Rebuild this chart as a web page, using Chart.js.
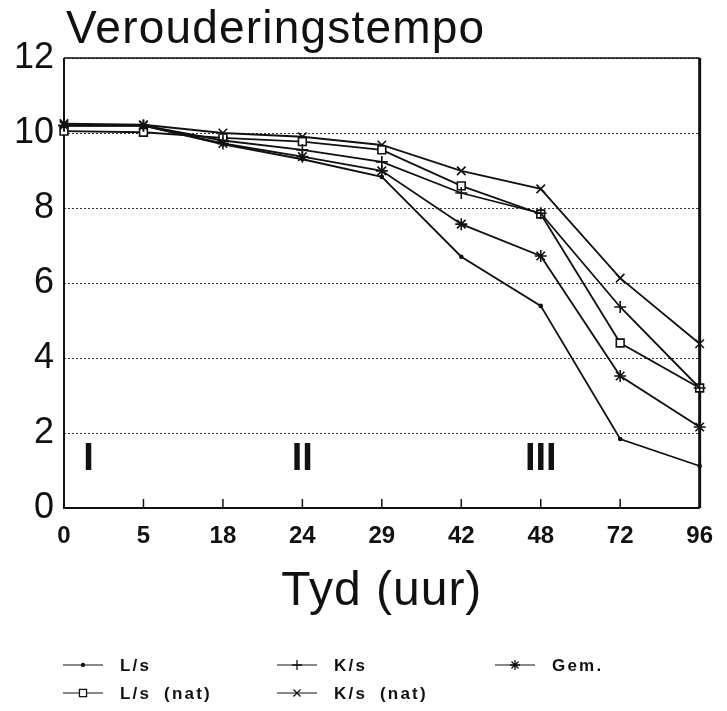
<!DOCTYPE html>
<html>
<head>
<meta charset="utf-8">
<script src="https://cdn.jsdelivr.net/npm/chart.js@4.4.1/dist/chart.umd.min.js"></script>
<style>
  html, body { margin: 0; padding: 0; background: #fff; }
  #wrap { width: 727px; height: 711px; }
</style>
</head>
<body>
<div id="wrap"><canvas id="tempo" width="727" height="711"></canvas></div>
<script>
// tydstippe (uur)
const hours = ['0', '5', '18', '24', '29', '42', '48', '72', '96'];

// verouderingstempo per reeks
const lsValues    = [10.2, 10.2, 9.7, 9.3, 8.83, 6.7, 5.39, 1.84, 1.12];
const ksValues    = [10.2, 10.2, 9.8, 9.55, 9.23, 8.4, 7.86, 5.36, 3.2];
const gemValues   = [10.2, 10.2, 9.72, 9.37, 8.99, 7.57, 6.72, 3.52, 2.16];
const lsNatValues = [10.05, 10.02, 9.87, 9.77, 9.55, 8.59, 7.84, 4.4, 3.2];
const ksNatValues = [10.25, 10.22, 10.0, 9.9, 9.68, 8.99, 8.51, 6.13, 4.38];

const seriesNames = ['L/s', 'K/s', 'Gem.', 'L/s (nat)', 'K/s (nat)'];
const yTicks = [0, 2, 4, 6, 8, 10, 12];
const phases = ['I', 'II', 'III'];

const ink = '#111';

function series(label, data, style, radius) {
    return {
        label: label,
        data: data,
        borderColor: ink,
        borderWidth: 1.8,
        pointStyle: style,
        pointRadius: radius,
        pointBorderWidth: 1.6,
        pointBorderColor: ink,
        pointBackgroundColor: style === 'rect' ? '#fff' : ink,
        tension: 0
    };
}

// raam, tydmerke, fases, titels en legende
const decorPlugin = {
    id: 'decor',
    beforeDatasetsDraw(chart) {
        const { ctx, chartArea: a, scales } = chart;
        ctx.save();
        ctx.strokeStyle = ink;
        ctx.lineWidth = 1.5;
        ctx.beginPath();
        ctx.moveTo(a.left, a.top);
        ctx.lineTo(a.right, a.top);
        ctx.stroke();
        ctx.lineWidth = 2;
        ctx.beginPath();
        ctx.moveTo(a.left, a.top);
        ctx.lineTo(a.left, a.bottom);
        ctx.lineTo(a.right, a.bottom);
        ctx.stroke();
        ctx.lineWidth = 3;
        ctx.beginPath();
        ctx.moveTo(a.right, a.top);
        ctx.lineTo(a.right, a.bottom);
        ctx.stroke();

        // klein merkies op die x-as
        ctx.lineWidth = 1.5;
        hours.forEach((h, i) => {
            if (i === 0 || i === hours.length - 1) return;
            const x = scales.x.getPixelForValue(i);
            ctx.beginPath();
            ctx.moveTo(x, a.bottom);
            ctx.lineTo(x, a.bottom - 9);
            ctx.stroke();
        });

        // fases I, II, III
        ctx.fillStyle = ink;
        ctx.font = 'bold 38px "Liberation Sans Narrow", "Liberation Sans", Arial, sans-serif';
        ctx.textAlign = 'center';
        ctx.textBaseline = 'middle';
        const phaseAt = [0.31, 3, 6];
        phases.forEach((p, i) => {
            ctx.fillText(p, scales.x.getPixelForValue(phaseAt[i]), scales.y.getPixelForValue(1.3));
        });
        ctx.restore();
    },
    afterDraw(chart) {
        const { ctx, chartArea: a } = chart;
        ctx.save();
        ctx.fillStyle = ink;
        ctx.textAlign = 'left';
        ctx.textBaseline = 'alphabetic';
        ctx.letterSpacing = '1.2px';
        ctx.font = '46px "Liberation Sans", Arial, sans-serif';
        ctx.fillText('Verouderingstempo', 66, 43);

        ctx.textAlign = 'center';
        ctx.letterSpacing = '1px';
        ctx.font = '48px "Liberation Sans", Arial, sans-serif';
        ctx.fillText('Tyd (uur)', (a.left + a.right) / 2, 605);

        // legende in twee rye
        const slots = [[63, 665], [277, 665], [495, 665], [63, 693], [277, 693]];
        ctx.letterSpacing = '2.2px';
        ctx.wordSpacing = '6px';
        ctx.font = 'bold 17px "Liberation Sans", Arial, sans-serif';
        ctx.textAlign = 'left';
        ctx.textBaseline = 'middle';
        chart.data.datasets.forEach((ds, i) => {
            const [x, y] = slots[i];
            ctx.strokeStyle = ink;
            ctx.lineWidth = 1.1;
            ctx.beginPath();
            ctx.moveTo(x, y);
            ctx.lineTo(x + 40, y);
            ctx.stroke();
            ctx.lineWidth = 1.3;
            ctx.fillStyle = ds.pointBackgroundColor;
            Chart.helpers.drawPoint(ctx, {
                pointStyle: ds.pointStyle,
                radius: Math.min(ds.pointRadius, 5),
                rotation: 0,
                borderWidth: 1.3
            }, x + 20, y);
            ctx.fillStyle = ink;
            ctx.fillText(ds.label, x + 57, y + 1);
        });
        ctx.restore();
    }
};

function createTempoChart() {
    const ctx = document.getElementById('tempo').getContext('2d');
    new Chart(ctx, {
        type: 'line',
        data: {
            labels: hours,
            datasets: [
                series(seriesNames[0], lsValues, 'circle', 1.5),
                series(seriesNames[1], ksValues, 'cross', 6),
                series(seriesNames[2], gemValues, 'star', 6),
                series(seriesNames[3], lsNatValues, 'rect', 5.5),
                series(seriesNames[4], ksNatValues, 'crossRot', 6)
            ]
        },
        options: {
            responsive: false,
            animation: false,
            events: [],
            layout: { padding: { top: 58, right: 15, bottom: 0, left: 0 } },
            plugins: {
                legend: { display: false },
                title: { display: false },
                tooltip: { enabled: false }
            },
            scales: {
                x: {
                    offset: false,
                    grid: { display: false, drawTicks: false },
                    border: { display: false },
                    ticks: {
                        color: ink,
                        padding: 14,
                        maxRotation: 0,
                        autoSkip: false,
                        font: { family: '"Liberation Sans Narrow", "Liberation Sans", Arial, sans-serif', size: 24, weight: 'bold' }
                    },
                    afterFit(scale) { scale.height = 203; }
                },
                y: {
                    min: 0,
                    max: 12,
                    afterBuildTicks(scale) { scale.ticks = yTicks.map(v => ({ value: v })); },
                    grid: { color: '#333', lineWidth: 1, drawTicks: false },
                    border: { display: false, dash: [2, 2] },
                    ticks: {
                        color: ink,
                        padding: 10,
                        font: { family: '"Liberation Sans", Arial, sans-serif', size: 36 }
                    },
                    afterFit(scale) { scale.width = 64; }
                }
            }
        },
        plugins: [decorPlugin]
    });
}

document.addEventListener('DOMContentLoaded', createTempoChart);
</script>
</body>
</html>
